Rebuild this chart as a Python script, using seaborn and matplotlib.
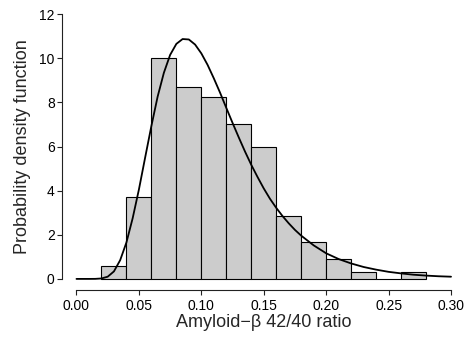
import numpy as np
import pandas as pd
import seaborn as sns
from matplotlib import pyplot as plt

# histogram bins (width 0.02) and densities
bin_edges = [0.02, 0.04, 0.06, 0.08, 0.10, 0.12, 0.14, 0.16, 0.18, 0.20, 0.22, 0.24, 0.26, 0.28]
bin_density = [0.60, 3.73, 10.0, 8.68, 8.24, 7.03, 6.00, 2.84, 1.65, 0.89, 0.30, 0.0, 0.30]

# fitted density curve, read point by point
curve_x = [0.0, 0.005, 0.01, 0.015, 0.02, 0.025, 0.03, 0.035, 0.04, 0.045, 0.05, 0.055,
           0.06, 0.065, 0.07, 0.075, 0.08, 0.085, 0.09, 0.095, 0.10, 0.105, 0.11, 0.115,
           0.12, 0.125, 0.13, 0.135, 0.14, 0.145, 0.15, 0.155, 0.16, 0.165, 0.17, 0.175,
           0.18, 0.19, 0.20, 0.21, 0.22, 0.23, 0.24, 0.25, 0.26, 0.27, 0.28, 0.29, 0.30]
curve_y = [0.0, 0.0, 0.0, 0.002, 0.02, 0.10, 0.34, 0.85, 1.65, 2.75, 4.05, 5.50,
           6.93, 8.26, 9.34, 10.15, 10.65, 10.87, 10.85, 10.62, 10.22, 9.70, 9.09, 8.44,
           7.75, 7.07, 6.41, 5.77, 5.17, 4.62, 4.10, 3.63, 3.22, 2.85, 2.52, 2.22,
           1.96, 1.52, 1.16, 0.90, 0.70, 0.54, 0.42, 0.32, 0.25, 0.19, 0.15, 0.12, 0.10]

x_ticks = [0.00, 0.05, 0.10, 0.15, 0.20, 0.25, 0.30]
y_ticks = [0, 2, 4, 6, 8, 10, 12]

sns.set_style("ticks")
plt.rcParams['font.family'] = ['Liberation Sans', 'DejaVu Sans']

centers = [(a + b) / 2 for a, b in zip(bin_edges[:-1], bin_edges[1:])]
hist_df = pd.DataFrame({'ratio': centers, 'density': bin_density})
curve_df = pd.DataFrame({'x': curve_x, 'y': curve_y})

fig = plt.figure(figsize=(4.66, 3.37), dpi=100)
ax = fig.add_axes([61.5 / 466, (337 - 289.5) / 337, (466 - 61.5) / 466, 286 / 337])

sns.histplot(data=hist_df, x='ratio', weights='density', bins=bin_edges, stat='count',
             color='#CCCCCC', edgecolor='black', linewidth=0.8, alpha=1, ax=ax)
sns.lineplot(data=curve_df, x='x', y='y', color='black', linewidth=1.3, ax=ax)

ax.set_xlim(-0.012, 0.312)
ax.set_ylim(-0.48, 12.48)
ax.set_xticks(x_ticks)
ax.set_xticklabels([f'{t:.2f}' for t in x_ticks])
ax.set_yticks(y_ticks)
ax.set_yticklabels([str(t) for t in y_ticks])

for side in ['top', 'right']:
    ax.spines[side].set_visible(False)
ax.spines['left'].set_bounds(0, 12)
ax.spines['bottom'].set_bounds(0, 0.30)
for side in ['left', 'bottom']:
    ax.spines[side].set_color('#222222')
    ax.spines[side].set_linewidth(0.8)
ax.tick_params(axis='both', direction='out', length=3.6, width=0.8, color='#222222',
               labelsize=10, labelcolor='black')
ax.tick_params(axis='y', pad=1.3)
ax.tick_params(axis='x', pad=3)

ax.set_xlabel('Amyloid\u2212\u03b2 42/40 ratio', fontsize=13, labelpad=1)
ax.set_ylabel('Probability density function', fontsize=13, labelpad=6)
ax.grid(False)

fig.savefig('out.png', dpi=100)
